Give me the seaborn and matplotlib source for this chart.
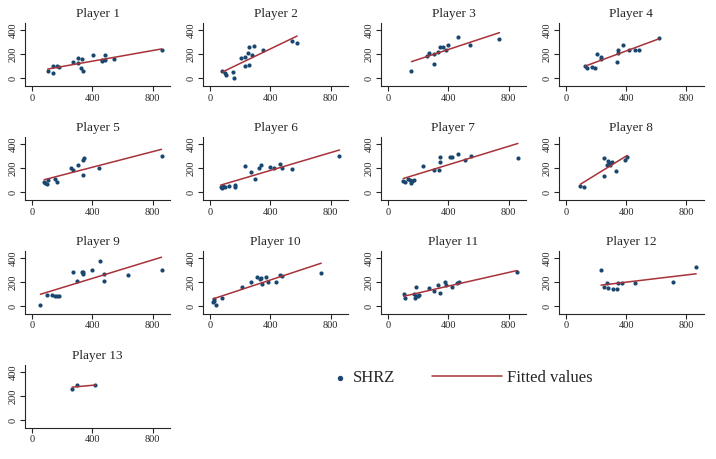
import pandas as pd
import matplotlib.pyplot as plt
import seaborn as sns

# ── data (x = minutes?, y = SHRZ) ───────────────────────────────────
p1_x = [105, 143, 143, 165, 182, 270, 308, 308, 323, 334, 341, 404, 462, 462, 484, 484, 543, 859]
p1_y = [61, 103, 47, 103, 97, 136, 167, 125, 83, 158, 58, 194, 153, 144, 197, 156, 158, 236]

p2_x = [84, 103, 110, 156, 158, 209, 231, 235, 255, 257, 259, 279, 290, 352, 545, 578]
p2_y = [64, 47, 31, 50, 3, 167, 106, 175, 208, 261, 108, 192, 267, 233, 314, 297]

p3_x = [157, 259, 274, 307, 307, 334, 343, 369, 387, 402, 466, 546, 740]
p3_y = [64, 186, 214, 117, 203, 222, 264, 264, 233, 281, 344, 278, 325]

p4_x = [130, 141, 175, 194, 208, 234, 237, 340, 345, 347, 380, 422, 460, 486, 617]
p4_y = [106, 83, 97, 86, 203, 175, 164, 136, 236, 208, 281, 239, 239, 239, 333]

p5_x = [81, 90, 101, 110, 154, 169, 257, 275, 305, 336, 343, 338, 446, 859]
p5_y = [86, 75, 69, 100, 114, 89, 206, 186, 225, 269, 289, 142, 200, 306]

p6_x = [72, 81, 88, 99, 127, 164, 169, 232, 274, 302, 329, 340, 399, 423, 462, 480, 544, 859]
p6_y = [47, 33, 53, 44, 50, 58, 44, 219, 169, 108, 206, 228, 214, 203, 239, 206, 197, 300]

p7_x = [103, 114, 132, 147, 154, 160, 171, 233, 308, 341, 345, 347, 413, 426, 466, 512, 549, 862]
p7_y = [92, 83, 114, 100, 81, 94, 100, 219, 189, 189, 292, 253, 297, 297, 322, 272, 300, 289]

p8_x = [97, 124, 256, 256, 274, 278, 287, 296, 309, 331, 391, 407]
p8_y = [56, 42, 286, 136, 228, 261, 242, 228, 250, 175, 269, 292]

p9_x = [57, 103, 136, 154, 167, 182, 275, 301, 332, 338, 341, 396, 451, 479, 479, 635, 859]
p9_y = [6, 92, 94, 86, 83, 86, 289, 211, 289, 267, 289, 303, 378, 267, 214, 258, 306]

p10_x = [22, 26, 29, 42, 79, 213, 275, 310, 332, 341, 345, 371, 385, 437, 464, 479, 738]
p10_y = [33, 47, 56, 6, 67, 164, 206, 244, 225, 239, 186, 244, 206, 206, 264, 256, 275]

p11_x = [105, 112, 171, 180, 187, 189, 198, 207, 273, 308, 334, 343, 382, 389, 426, 457, 470, 857]
p11_y = [103, 72, 103, 67, 158, 83, 89, 94, 150, 131, 178, 111, 200, 178, 158, 194, 203, 283]

p12_x = [234, 252, 274, 283, 312, 343, 345, 371, 460, 711, 864]
p12_y = [306, 161, 197, 153, 147, 144, 194, 192, 194, 206, 325]

p13_x = [267, 300, 420]
p13_y = [262, 298, 290]

players_x = [p1_x, p2_x, p3_x, p4_x, p5_x, p6_x, p7_x, p8_x, p9_x, p10_x, p11_x, p12_x, p13_x]
players_y = [p1_y, p2_y, p3_y, p4_y, p5_y, p6_y, p7_y, p8_y, p9_y, p10_y, p11_y, p12_y, p13_y]

x_ticks = [0, 400, 800]
y_ticks = [0, 200, 400]

NAVY   = '#1a476f'
MAROON = '#a8323a'

# ── style ─────────────────────────────────────────────────
sns.set_theme(style='ticks')
plt.rcParams['font.family'] = ['Liberation Serif', 'DejaVu Serif']
plt.rcParams['axes.linewidth'] = 0.8
plt.rcParams['xtick.major.width'] = 0.8
plt.rcParams['ytick.major.width'] = 0.8

fig, axes = plt.subplots(4, 4, figsize=(7.16, 4.59), dpi=100)
fig.subplots_adjust(left=0.035, right=0.983, top=0.950, bottom=0.068,
                    wspace=0.228, hspace=0.81)

for i, ax in enumerate(axes.flat):
    if i >= len(players_x):
        ax.axis('off')
        continue
    df = pd.DataFrame({'x': players_x[i], 'y': players_y[i]})
    sns.scatterplot(data=df, x='x', y='y', ax=ax, color=NAVY, s=9,
                    linewidth=0, label='SHRZ')
    sns.regplot(data=df, x='x', y='y', ax=ax, scatter=False, ci=None,
                color=MAROON, line_kws={'linewidth': 1.1}, label='Fitted values')
    ax.set_title(f'Player {i + 1}', fontsize=9.5, pad=4)
    ax.set(xlabel='', ylabel='', xlim=(-45, 915), ylim=(-64, 463))
    ax.set_xticks(x_ticks)
    ax.set_yticks(y_ticks)
    ax.tick_params(axis='both', labelsize=7.5, length=3.5, pad=2)
    for lab in ax.get_yticklabels():
        lab.set_rotation(90)
        lab.set_va('center')
    sns.despine(ax=ax)
    if ax.get_legend():
        ax.get_legend().remove()

# ── legend: two pieces so the dot sits close to its text ──
handles, labels = axes.flat[0].get_legend_handles_labels()
fig.legend(handles[:1], labels[:1], loc='center left', frameon=False,
           bbox_to_anchor=(0.465, 0.176), fontsize=12, markerscale=1.3,
           handlelength=0.8, handletextpad=0.4, borderpad=0, borderaxespad=0)
fig.legend(handles[1:], labels[1:], loc='center left', frameon=False,
           bbox_to_anchor=(0.603, 0.176), fontsize=12,
           handlelength=4.2, handletextpad=0.3, borderpad=0, borderaxespad=0)

plt.savefig('out.png', dpi=100)
